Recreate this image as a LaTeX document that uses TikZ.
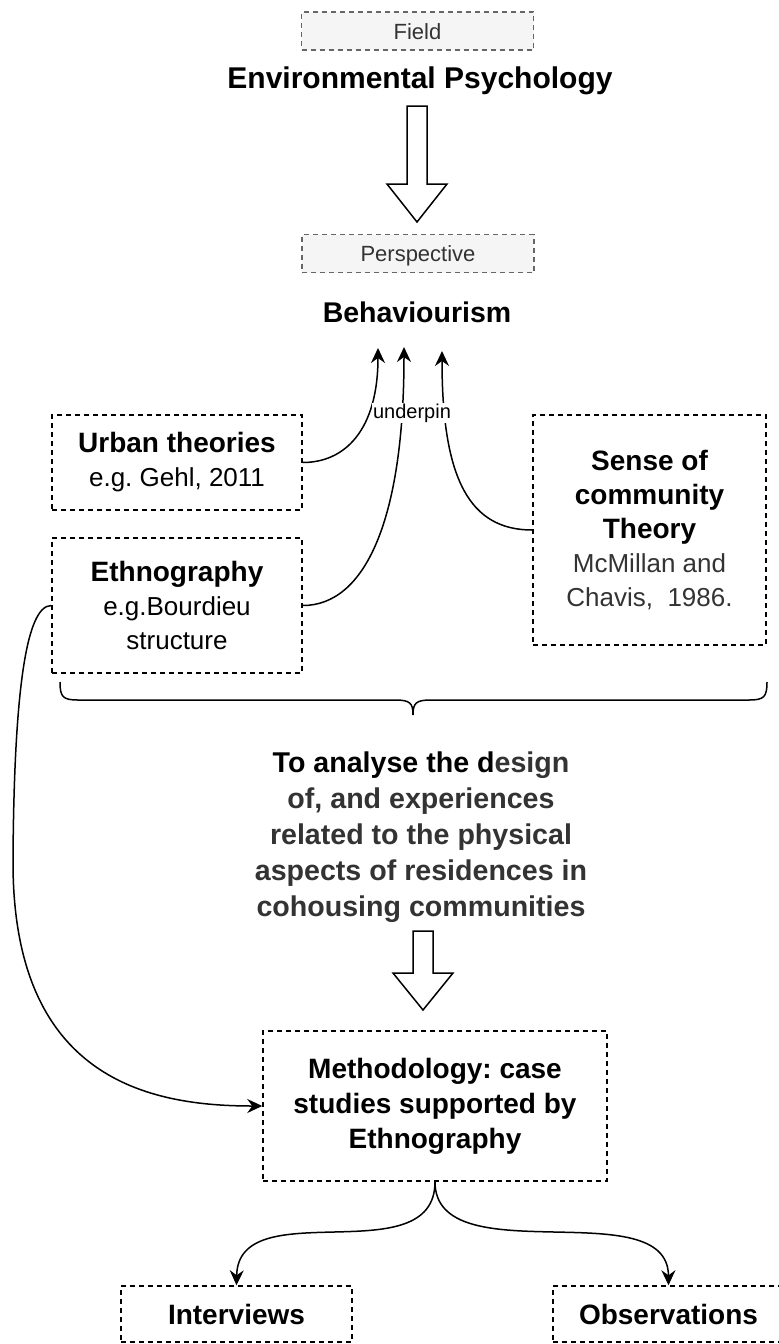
\documentclass[tikz,border=0pt]{standalone}
\usepackage{fontspec}
\setmainfont{Liberation Sans}
\usetikzlibrary{arrows.meta}
\frenchspacing
\definecolor{txtgray}{HTML}{333333}
\definecolor{tagline}{HTML}{666666}
\definecolor{tagfill}{HTML}{F5F5F5}
\newcommand{\bfsize}{\fontsize{28}{34}\selectfont\bfseries}
\newcommand{\rmsize}{\fontsize{26}{34}\selectfont\mdseries}
\tikzset{
  tagbox/.style={draw=tagline, fill=tagfill, line width=1.5pt,
    dash pattern=on 5pt off 4pt, text=txtgray,
    font=\fontsize{22}{26}\selectfont, text height=16pt, text depth=0pt,
    minimum width=232pt, minimum height=38pt, inner sep=0pt},
  dbox/.style={draw=black, line width=1.5pt, dash pattern=on 5pt off 4pt,
    align=center, inner sep=0pt, font=\fontsize{28}{34}\selectfont},
  heading/.style={font=\fontsize{30}{36}\selectfont\bfseries, inner sep=0pt},
  conn/.style={draw=black, line width=1.5pt,
    -{Stealth[length=15pt, width=14pt, inset=5pt]}},
  plainline/.style={draw=black, line width=1.5pt},
  blockarrow/.style={draw=black, fill=white, line width=1.5pt, line join=miter},
  edgelabel/.style={fill=white, inner sep=1pt, font=\fontsize{20}{24}\selectfont}
}
\begin{document}
\begin{tikzpicture}[x=1pt, y=-1pt]
  \clip (0,0) rectangle (779,1344);

  % field and perspective
  \node[tagbox] (fieldtag) at (417.5,31) {Field};
  \node[heading, anchor=base] (field) at (420,88) {Environmental Psychology};
  \draw[blockarrow] (407,106) -- (427,106) -- (427,184) -- (447,184)
    -- (417,222) -- (387,184) -- (407,184) -- cycle;
  \node[tagbox] (persptag) at (418,253.5) {Perspective};
  \node[heading, font=\fontsize{28.5}{34}\selectfont\bfseries, anchor=base]
    (persp) at (417,322) {Behaviourism};

  % end points of the three supporting arrows
  \coordinate (tipA) at (378,348);
  \coordinate (tipB) at (404,347);
  \coordinate (tipC) at (442,351);

  % supporting theories
  \node[dbox, minimum width=250pt, minimum height=95pt] (urban) at (177,462.5)
    {\bfsize Urban theories\\ \rmsize e.g. Gehl, 2011};
  \node[dbox, minimum width=250pt, minimum height=135pt] (ethno) at (177,605.5)
    {\bfsize Ethnography\\ \rmsize e.g.Bourdieu\\ \rmsize structure};
  \node[dbox, minimum width=233pt, minimum height=230pt] (soc) at (649.5,530)
    {\bfsize Sense of\\ \bfsize community\\ \bfsize Theory\\
     \rmsize\color{txtgray} McMillan and\\ \rmsize\color{txtgray} Chavis,\ \ 1986.};

  \draw[conn] (urban.east) .. controls (345,462.5) and (378,430) .. (tipA);
  \draw[conn] (ethno.east) .. controls (365,605.5) and (404,520) .. (tipB);
  \draw[conn] (soc.west) .. controls (470,530) and (442,480) .. (tipC);
  \node[edgelabel] (underpin) at (412,413) {underpin};

  % brace gathering the theories
  \coordinate (braceL) at (60,682);
  \coordinate (braceR) at (767,682);
  \coordinate (braceTip) at (413,715);
  \draw[plainline] (braceL) .. controls (60,697) and (63,700) .. (78,700)
    -- (395,700) .. controls (410,700) and (413,703) .. (braceTip)
    .. controls (413,703) and (416,700) .. (431,700)
    -- (749,700) .. controls (764,700) and (767,697) .. (braceR);

  % aim
  \node[font=\fontsize{28.6}{36}\selectfont\bfseries, align=center, inner sep=0pt]
    (aim) at (421,837)
    {To analyse the d\textcolor{txtgray}{esign}\\
     \color{txtgray}of, and experiences\\
     \color{txtgray}related to the physical\\
     \color{txtgray}aspects of residences in\\
     \color{txtgray}cohousing communities};
  \draw[blockarrow] (413,931) -- (433,931) -- (433,973) -- (453,973)
    -- (423,1010) -- (393,973) -- (413,973) -- cycle;

  % methodology and methods
  \node[dbox, font=\fontsize{28}{35}\selectfont, minimum width=344pt,
    minimum height=150pt] (meth) at (435,1106)
    {\bfseries Methodology: case\\ \bfseries studies supported by\\
     \bfseries Ethnography};
  \node[dbox, minimum width=231pt, minimum height=56pt] (interv) at (236.5,1314)
    {\bfsize Interviews};
  \node[dbox, minimum width=231pt, minimum height=56pt] (observ) at (668.5,1314)
    {\bfsize Observations};

  \draw[conn] (ethno.west) .. controls (25,605.5) and (14,700) .. (13,860)
    .. controls (12,1080) and (150,1106) .. (meth.west);
  \draw[conn] (meth.south) .. controls (435,1275) and (238,1191) .. (interv.north);
  \draw[conn] (meth.south) .. controls (435,1275) and (668,1191) .. (observ.north);
\end{tikzpicture}
\end{document}
